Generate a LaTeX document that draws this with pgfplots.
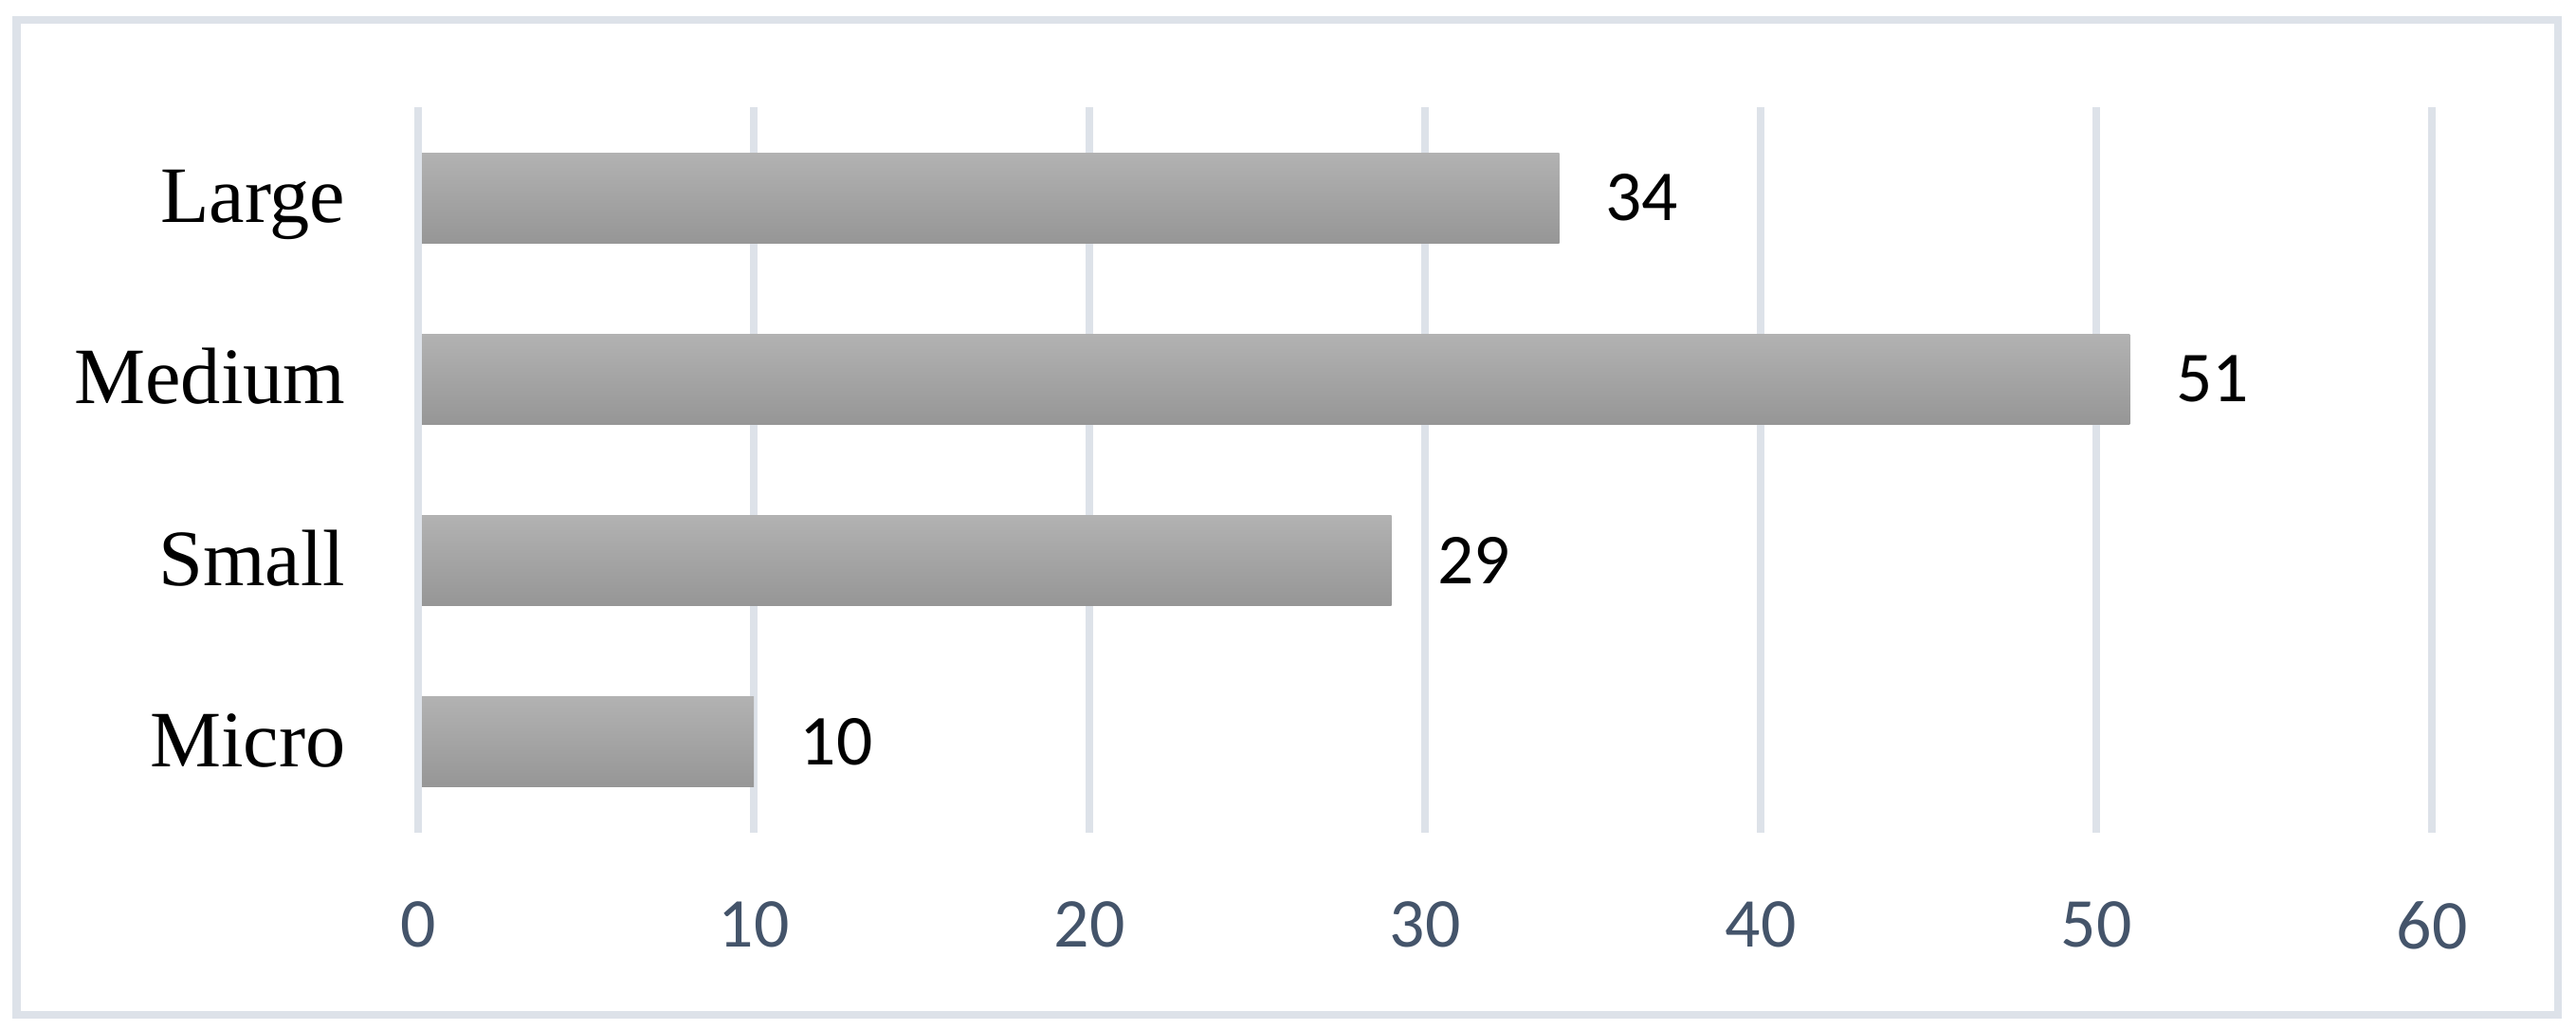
\documentclass[border=0pt]{standalone}
\usepackage{pgfplots}
\pgfplotsset{compat=1.18}
\usepackage{fontspec}
\setmainfont{Liberation Serif}
\newfontfamily\carlito{Carlito}
\definecolor{gridc}{HTML}{DDE2E9}
\definecolor{tickc}{HTML}{44546A}
\definecolor{bartop}{HTML}{B2B2B2}
\definecolor{barbot}{HTML}{969696}

\begin{document}
\begin{tikzpicture}
\path[use as bounding box] (-4.41,-2.08) rectangle (22.76,8.78);
\draw[gridc, line width=0.085cm] (-4.235,-1.92) rectangle (22.57,8.57);
\begin{axis}[
  at={(0,0)}, anchor=south west,
  scale only axis, width=21.24cm, height=7.65cm,
  xmin=0, xmax=60, ymin=-0.5, ymax=3.5,
  xbar, bar width=0.95cm, bar shift=0pt,
  axis line style={draw=none},
  xtick={0,10,...,60},
  ytick={0,1,2,3},
  yticklabels={Micro,Small,Medium,Large},
  major tick length=0pt,
  xmajorgrids, ymajorgrids=false,
  major grid style={gridc, line width=0.086cm},
  /pgf/number format/assume math mode=true,
  xticklabel style={font=\carlito\fontsize{21}{24}\selectfont, text=tickc, anchor=north, inner sep=0pt, yshift=-0.72cm},
  yticklabel style={font=\fontsize{24}{27}\selectfont, anchor=base east, inner sep=0pt, xshift=-0.76cm, yshift=-0.26cm},
  nodes near coords,
  every node near coord/.append style={font=\carlito\fontsize{21.5}{24}\selectfont, text=black, anchor=west, inner sep=0pt, xshift=0.48cm},
  clip=false,
  barstyle/.style={draw=none, top color=bartop, bottom color=barbot},
]
\addplot[barstyle] coordinates {(10,0)};
\addplot[barstyle] coordinates {(29,1)};
\addplot[barstyle] coordinates {(51,2)};
\addplot[barstyle] coordinates {(34,3)};
\draw[gridc, line width=0.086cm] (axis cs:0,-0.5) -- (axis cs:0,3.5);
\end{axis}
\end{tikzpicture}
\end{document}
